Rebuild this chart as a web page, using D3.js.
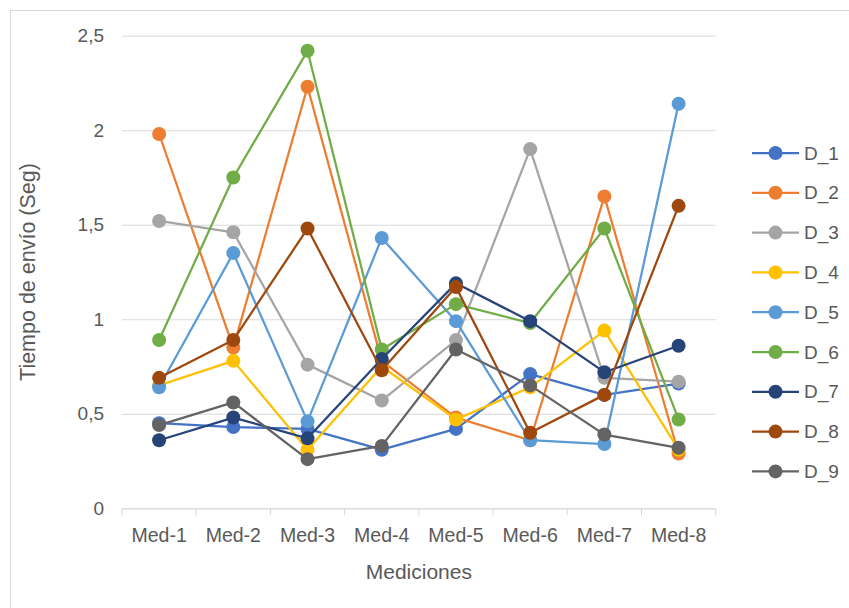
<!DOCTYPE html>
<html>
<head>
<meta charset="utf-8">
<script src="https://cdn.jsdelivr.net/npm/d3@7"></script>
<style>
  body { margin: 0; background: #fff; }
  text { font-family: "Liberation Sans", Arial, sans-serif; fill: #595959; }
</style>
</head>
<body>
<div id="chart"></div>
<script>
// categories and tick labels
var categories = ["Med-1", "Med-2", "Med-3", "Med-4", "Med-5", "Med-6", "Med-7", "Med-8"];
var yTicks = [0, 0.5, 1, 1.5, 2, 2.5];
var yTickLabels = ["0", "0,5", "1", "1,5", "2", "2,5"];
var seriesNames = ["D_1", "D_2", "D_3", "D_4", "D_5", "D_6", "D_7", "D_8", "D_9"];
var seriesColors = ["#4472C4", "#ED7D31", "#A5A5A5", "#FFC000", "#5B9BD5", "#70AD47", "#264478", "#9E480E", "#636363"];

// series values
var d1 = [0.45, 0.43, 0.42, 0.31, 0.42, 0.71, 0.60, 0.66];
var d2 = [1.98, 0.85, 2.23, 0.78, 0.48, 0.36, 1.65, 0.29];
var d3v = [1.52, 1.46, 0.76, 0.57, 0.89, 1.90, 0.69, 0.67];
var d4 = [0.65, 0.78, 0.31, 0.75, 0.47, 0.64, 0.94, 0.31];
var d5 = [0.64, 1.35, 0.46, 1.43, 0.99, 0.36, 0.34, 2.14];
var d6 = [0.89, 1.75, 2.42, 0.84, 1.08, 0.98, 1.48, 0.47];
var d7 = [0.36, 0.48, 0.37, 0.79, 1.19, 0.99, 0.72, 0.86];
var d8 = [0.69, 0.89, 1.48, 0.73, 1.17, 0.40, 0.60, 1.60];
var d9 = [0.44, 0.56, 0.26, 0.33, 0.84, 0.65, 0.39, 0.32];
var seriesValues = [d1, d2, d3v, d4, d5, d6, d7, d8, d9];

var svgWidth = 849, svgHeight = 608;
var plotLeft = 122, plotRight = 715.7, plotTop = 35.7, plotBottom = 508.3;

var svg = d3.select("#chart")
    .append("svg")
    .attr("width", svgWidth)
    .attr("height", svgHeight);

// chart border
svg.append("rect")
    .attr("x", 10.5).attr("y", 10.5)
    .attr("width", 900).attr("height", 700)
    .attr("fill", "none")
    .attr("stroke", "#d9d9d9")
    .attr("stroke-width", 1);

// scales
var x = d3.scaleBand().domain(categories).range([plotLeft, plotRight]).padding(0);
var y = d3.scaleLinear().domain([0, 2.5]).range([plotBottom, plotTop]);
var cx = function (c) { return x(c) + x.bandwidth() / 2; };

// gridlines + y labels
var yAxis = d3.axisLeft(y)
    .tickValues(yTicks)
    .tickSize(-(plotRight - plotLeft))
    .tickPadding(18)
    .tickFormat(function (d, i) { return yTickLabels[i]; });

var gy = svg.append("g")
    .attr("transform", "translate(" + plotLeft + ",0)")
    .call(yAxis);
gy.select(".domain").remove();
gy.selectAll("line").attr("stroke", "#d9d9d9").attr("stroke-width", 1);
gy.selectAll("text").style("font-size", "19px").attr("fill", "#595959");

// x axis labels
var xAxis = d3.axisBottom(x).tickSize(0).tickPadding(20);
var gx = svg.append("g")
    .attr("transform", "translate(0," + plotBottom + ")")
    .call(xAxis);
gx.select(".domain").attr("stroke", "#d9d9d9");
gx.selectAll("text").style("font-size", "19.5px").attr("fill", "#595959");

// x tick marks at band boundaries
var bounds = categories.map(function (c) { return x(c); }).concat([plotRight]);
svg.append("g")
    .selectAll("line")
    .data(bounds)
    .join("line")
    .attr("x1", function (d) { return d; })
    .attr("x2", function (d) { return d; })
    .attr("y1", plotBottom)
    .attr("y2", plotBottom + 7)
    .attr("stroke", "#d9d9d9");

// axis titles
svg.append("text")
    .attr("x", (plotLeft + plotRight) / 2)
    .attr("y", 579)
    .attr("text-anchor", "middle")
    .style("font-size", "21px")
    .text("Mediciones");

svg.append("text")
    .attr("transform", "translate(35," + ((plotTop + plotBottom) / 2) + ") rotate(-90)")
    .attr("text-anchor", "middle")
    .style("font-size", "21.5px")
    .text("Tiempo de envío (Seg)");

// series
var line = d3.line()
    .x(function (d, i) { return cx(categories[i]); })
    .y(function (d) { return y(d); });

seriesValues.forEach(function (vals, s) {
    var g = svg.append("g").attr("class", "series");
    g.append("path")
        .datum(vals)
        .attr("fill", "none")
        .attr("stroke", seriesColors[s])
        .attr("stroke-width", 2.25)
        .attr("stroke-linejoin", "round")
        .attr("d", line);
    g.selectAll("circle")
        .data(vals)
        .join("circle")
        .attr("cx", function (d, i) { return cx(categories[i]); })
        .attr("cy", function (d) { return y(d); })
        .attr("r", 7)
        .attr("fill", seriesColors[s]);
});

// legend
var legend = svg.append("g")
    .selectAll("g")
    .data(seriesNames)
    .join("g")
    .attr("transform", function (d, i) { return "translate(752," + (153 + i * 39.8) + ")"; });

legend.append("line")
    .attr("x1", 0).attr("x2", 47)
    .attr("y1", 0).attr("y2", 0)
    .attr("stroke", function (d, i) { return seriesColors[i]; })
    .attr("stroke-width", 2.25);
legend.append("circle")
    .attr("cx", 23.5).attr("cy", 0).attr("r", 7)
    .attr("fill", function (d, i) { return seriesColors[i]; });
legend.append("text")
    .attr("x", 52)
    .attr("y", 0)
    .attr("dy", "0.35em")
    .style("font-size", "19px")
    .text(function (d) { return d; });
</script>
</body>
</html>
